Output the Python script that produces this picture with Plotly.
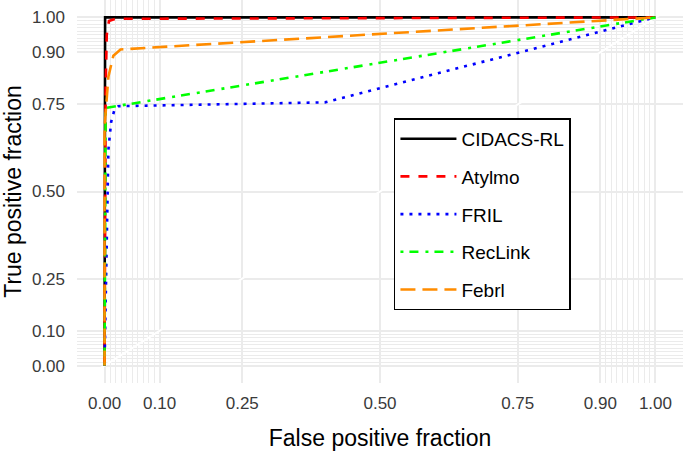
import plotly.graph_objects as go

# ---- data ----
methods = ["CIDACS-RL", "Atylmo", "FRIL", "RecLink", "Febrl"]

cidacs_fpf = [0.0, 0.0, 0.001, 1.0]
cidacs_tpf = [0.0, 0.99, 1.0, 1.0]

atylmo_fpf = [0.0, 0.002, 0.004, 0.008, 0.02, 1.0]
atylmo_tpf = [0.0, 0.80, 0.95, 0.99, 0.996, 1.0]

fril_fpf = [0.0, 0.003, 0.005, 0.007, 0.012, 0.018, 0.025, 0.40, 1.0]
fril_tpf = [0.0, 0.30, 0.50, 0.62, 0.70, 0.735, 0.745, 0.756, 1.0]

reclink_fpf = [0.0, 0.002, 1.0]
reclink_tpf = [0.0, 0.74, 1.0]

febrl_fpf = [0.0, 0.0, 0.007, 0.016, 0.029, 1.0]
febrl_tpf = [0.0, 0.685, 0.83, 0.89, 0.908, 1.0]

major_ticks = [0.0, 0.10, 0.25, 0.50, 0.75, 0.90, 1.0]
major_labels = ["0.00", "0.10", "0.25", "0.50", "0.75", "0.90", "1.00"]
minor_ticks = [0.01, 0.02, 0.03, 0.04, 0.05, 0.06, 0.07, 0.08, 0.09,
               0.91, 0.92, 0.93, 0.94, 0.95, 0.96, 0.97, 0.98, 0.99]

series_x = [cidacs_fpf, atylmo_fpf, fril_fpf, reclink_fpf, febrl_fpf]
series_y = [cidacs_tpf, atylmo_tpf, fril_tpf, reclink_tpf, febrl_tpf]
colors = ["#000000", "#FF0000", "#0000FF", "#00FF00", "#FF8C00"]
dashes = ["solid", "9px,9px", "3px,6px", "3px,6px,9px,7px", "15px,7px"]

FONT = "Liberation Sans, Arial, Helvetica, sans-serif"

fig = go.Figure()

# reference diagonal (drawn in near-white, visible only over grid lines)
fig.add_trace(go.Scatter(x=[-0.05, 1.05], y=[-0.05, 1.05], mode="lines",
                         line=dict(color="#FFFFFF", width=2),
                         showlegend=False, hoverinfo="skip"))

for name, xs, ys, c, d in zip(methods, series_x, series_y, colors, dashes):
    fig.add_trace(go.Scatter(x=xs, y=ys, mode="lines", name=name,
                             legendgroup=name,
                             line=dict(color=c, width=2.6, dash=d)))

axis_common = dict(
    range=[-0.05, 1.05],
    tickvals=major_ticks, ticktext=major_labels,
    showgrid=True, gridcolor="#EBEBEB", gridwidth=2,
    zeroline=False, showline=False, ticks="",
    automargin=False,
    tickfont=dict(family=FONT, size=17, color="#3A3A3A"),
    minor=dict(tickvals=minor_ticks, showgrid=True, gridcolor="#EBEBEB",
               gridwidth=1, ticks=""),
)

fig.update_layout(
    width=685, height=452,
    margin=dict(l=77, r=2, t=0, b=69),
    paper_bgcolor="white", plot_bgcolor="white",
    font=dict(family=FONT, color="#000000"),
    xaxis=dict(**axis_common,
               title=dict(text="False positive fraction",
                          font=dict(family=FONT, size=23, color="#000000"),
                          standoff=17),
               ticklabelstandoff=8),
    yaxis=dict(**axis_common,
               title=dict(text="True positive fraction",
                          font=dict(family=FONT, size=23, color="#000000"),
                          standoff=15),
               ticklabelstandoff=11),
    legend=dict(x=0.523, y=0.691, xanchor="left", yanchor="top",
                bgcolor="white", bordercolor="#000000", borderwidth=1.5,
                font=dict(family=FONT, size=19, color="#000000"),
                itemwidth=56, tracegroupgap=10,
                traceorder="grouped"),
    showlegend=True,
)

fig.write_html("out.html",
               config={"displayModeBar": False},
               post_script="document.body.style.margin='0px';")
